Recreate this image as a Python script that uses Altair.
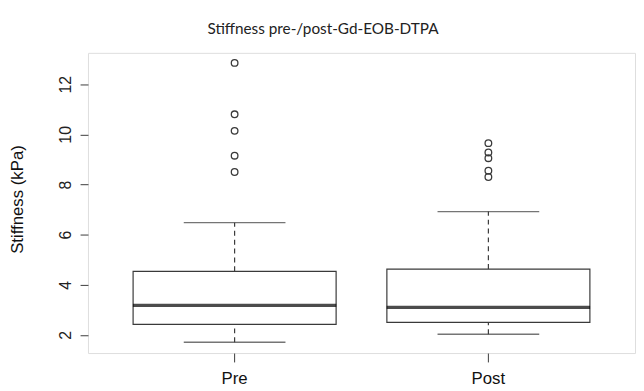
import altair as alt
import pandas as pd

groups = ["Pre", "Post"]
whisker_low = [1.71, 2.03]
q1 = [2.42, 2.50]
median = [3.18, 3.10]
q3 = [4.54, 4.63]
whisker_high = [6.48, 6.92]
outliers_pre = [12.85, 10.80, 10.14, 9.15, 8.50]
outliers_post = [9.65, 9.28, 9.05, 8.55, 8.30]
y_ticks = [2, 4, 6, 8, 10, 12]

stats = pd.DataFrame({
    "group": groups, "lo": whisker_low, "q1": q1, "med": median,
    "q3": q3, "hi": whisker_high,
})
outl = pd.DataFrame({
    "group": ["Pre"] * len(outliers_pre) + ["Post"] * len(outliers_post),
    "v": outliers_pre + outliers_post,
})

INK = "#3a3a3a"
FONT = "Liberation Sans"

xs = alt.Scale(type="band", domain=groups, paddingInner=0, paddingOuter=0.0778)
ys = alt.Scale(domain=[1.28, 13.25], nice=False, zero=False)

x_axis = alt.Axis(title=None, labelAngle=0, tickSize=9, labelPadding=9,
                  labelFontSize=17, labelFont=FONT, labelColor="#111",
                  tickColor=INK, domain=False, tickBand="center")
y_axis = alt.Axis(title="Stiffness (kPa)", values=y_ticks, labelAngle=-90,
                  labelAlign="center", labelBaseline="bottom", tickSize=8,
                  labelPadding=7, labelFontSize=16, labelFont=FONT,
                  labelColor="#222", tickColor=INK, domain=False, grid=False,
                  titleFont=FONT, titleFontSize=17, titleFontWeight="normal",
                  titleColor="#111", titleAngle=-90, titleAlign="center",
                  titleBaseline="middle", titleX=-71, titleY=148)

def X():
    return alt.X("group:N", scale=xs, axis=x_axis, sort=groups)

base = alt.Chart(stats)

box = base.mark_bar(width=alt.RelativeBandSize(0.8), fill="white",
                    stroke=INK, strokeWidth=1.2).encode(
    x=X(),
    y=alt.Y("q1:Q", scale=ys, axis=y_axis),
    y2="q3:Q",
)
whisk_up = base.mark_rule(color=INK, strokeDash=[5, 4], strokeWidth=1.2).encode(
    x=X(), y=alt.Y("q3:Q", scale=ys), y2="hi:Q")
whisk_lo = base.mark_rule(color=INK, strokeDash=[5, 4], strokeWidth=1.2).encode(
    x=X(), y=alt.Y("lo:Q", scale=ys), y2="q1:Q")
cap_hi = base.mark_tick(size=103, thickness=1.3, color=INK).encode(
    x=X(), y=alt.Y("hi:Q", scale=ys))
cap_lo = base.mark_tick(size=103, thickness=1.3, color=INK).encode(
    x=X(), y=alt.Y("lo:Q", scale=ys))
med = base.mark_tick(size=206, thickness=3.2, color="#000").encode(
    x=X(), y=alt.Y("med:Q", scale=ys))
pts = alt.Chart(outl).mark_point(shape="circle", filled=False, size=45,
                                 strokeWidth=1.3, color=INK, opacity=1).encode(
    x=X(), y=alt.Y("v:Q", scale=ys))

chart = alt.layer(box, whisk_up, whisk_lo, cap_hi, cap_lo, med, pts).properties(
    width=554, height=304,
    title=alt.TitleParams("Stiffness pre-/post-Gd-EOB-DTPA", font="Lato",
                          fontSize=15.5, fontWeight="normal", color="#222",
                          anchor="middle", dx=-39, offset=16),
    padding={"left": 81, "top": 43, "right": 1, "bottom": 36},
    autosize=alt.AutoSizeParams(type="none"),
).configure_view(stroke=INK, strokeWidth=1.3).configure(background="white")

chart.save("out.html", embed_options={"renderer": "svg", "actions": False})
